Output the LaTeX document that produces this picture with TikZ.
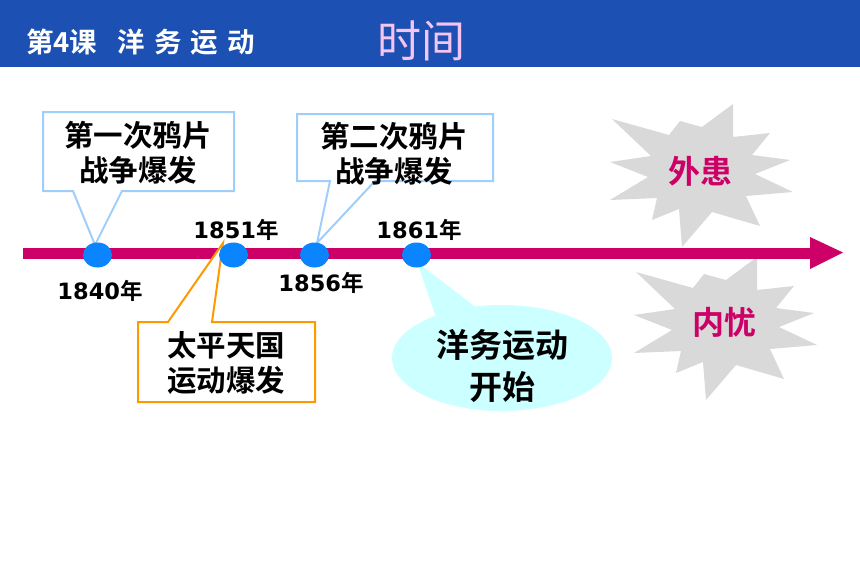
\documentclass[tikz,border=0pt]{standalone}
\usepackage{fontspec}
\setmainfont{Noto Sans CJK SC}[BoldFont={* Bold}]
\newfontfamily\cjk{Noto Sans CJK SC}[BoldFont={* Bold}]
\newfontfamily\cjkhead{Noto Sans CJK SC}[BoldFont={* Bold},LetterSpace=34]
\newfontfamily\dvs{DejaVu Sans}
\definecolor{headblue}{RGB}{28,80,178}
\definecolor{headpink}{RGB}{246,196,240}
\definecolor{linemag}{RGB}{204,0,102}
\definecolor{dotblue}{RGB}{10,132,255}
\definecolor{calloutblue}{RGB}{160,206,250}
\definecolor{calloutorange}{RGB}{255,153,0}
\definecolor{calloutcyan}{RGB}{204,255,255}
\definecolor{burstgray}{RGB}{217,217,217}
\tikzset{
  burstshape/.pic={
    \fill[burstgray] (-88,-53) -- (-31,-37) -- (-20,-51) -- (2,-45) -- (33,-68) -- (33,-35)
      -- (70,-39) -- (52,-17) -- (90,-12) -- (55,2) -- (93,20) -- (46,24) -- (60,54)
      -- (12,40) -- (-18,75) -- (-21,37) -- (-48,48) -- (-43,26) -- (-90,28) -- (-52,5)
      -- (-90,-10) -- (-49,-16) -- cycle;
  },
  yeardot/.style={fill=dotblue, ellipse, minimum width=29pt, minimum height=25pt, inner sep=0pt},
  yearlabel/.style={inner sep=0pt, font=\fontsize{22.5}{26}\selectfont\bfseries},
  callouttext/.style={inner sep=0pt, align=center, font=\cjk\bfseries\fontsize{29.5}{35}\selectfont},
  bursttext/.style={inner sep=0pt, text=linemag, font=\cjk\bfseries\fontsize{32}{38}\selectfont},
  bluecallout/.style={draw=calloutblue, line width=2pt, fill=white},
  orangecallout/.style={draw=calloutorange, line width=2pt, fill=white},
  headtext/.style={inner sep=0pt, text=white, anchor=west},
}
\usetikzlibrary{shapes.geometric}
\newcommand{\yr}[1]{{\dvs\bfseries #1}{\cjk\bfseries 年}}
\begin{document}
\begin{tikzpicture}[x=1pt,y=-1pt]
\useasboundingbox (0,0) rectangle (860,573);
% header
\fill[headblue] (0,0) rectangle (860,67);
\node[headtext, font=\cjk\bfseries\fontsize{27.5}{30}\selectfont] (lesson) at (26,42) {第4课};
\node[headtext, font=\cjkhead\bfseries\fontsize{27.5}{30}\selectfont] (title) at (117,42) {洋务运动};
\node[inner sep=0pt, text=headpink, font=\cjk\fontsize{44}{50}\selectfont] (time) at (421,41) {时间};
% starbursts
\pic at (700,172) {burstshape};
\pic at (724,325) {burstshape};
\node[bursttext] (waihuan) at (700,171) {外患};
\node[bursttext] (neiyou) at (724,322) {内忧};
% timeline
\coordinate (lstart) at (23,253);
\coordinate (lend) at (812,253);
\draw[linemag, line width=11pt] (lstart) -- (lend);
\fill[linemag] (810,237) -- (843,252.5) -- (810,269) -- cycle;
% callouts
\draw[bluecallout] (43,112) -- (234,112) -- (234,191) -- (122,191) -- (95,245) -- (73,191) -- (43,191) -- cycle;
\draw[bluecallout] (297,114) -- (493,114) -- (493,181) -- (375,181) -- (317,243) -- (330,181) -- (297,181) -- cycle;
\draw[orangecallout] (138,322) -- (168,322) -- (223,243) -- (212,322) -- (315,322) -- (315,402) -- (138,402) -- cycle;
\fill[calloutcyan] (502,358) ellipse [x radius=110, y radius=53];
\fill[calloutcyan] (417,262) -- (437,320) -- (482,312) -- cycle;
% dots
\node[yeardot] (d1840) at (97.5,255) {};
\node[yeardot] (d1851) at (233.5,255) {};
\node[yeardot] (d1856) at (314.5,255) {};
\node[yeardot] (d1861) at (416.5,255) {};
% year labels
\node[yearlabel] (y1840) at (100,291) {\yr{1840}};
\node[yearlabel] (y1851) at (236,230) {\yr{1851}};
\node[yearlabel] (y1856) at (321,283) {\yr{1856}};
\node[yearlabel] (y1861) at (419,230) {\yr{1861}};
% callout texts
\node[callouttext] (opium1) at (138,153) {第一次鸦片\\战争爆发};
\node[callouttext] (opium2) at (394,154) {第二次鸦片\\战争爆发};
\node[callouttext] (taiping) at (226,363) {太平天国\\运动爆发};
\node[inner sep=0pt, align=center, font=\cjk\bfseries\fontsize{33}{42}\selectfont] (yangwu) at (502,366) {洋务运动\\开始};
\end{tikzpicture}
\end{document}
